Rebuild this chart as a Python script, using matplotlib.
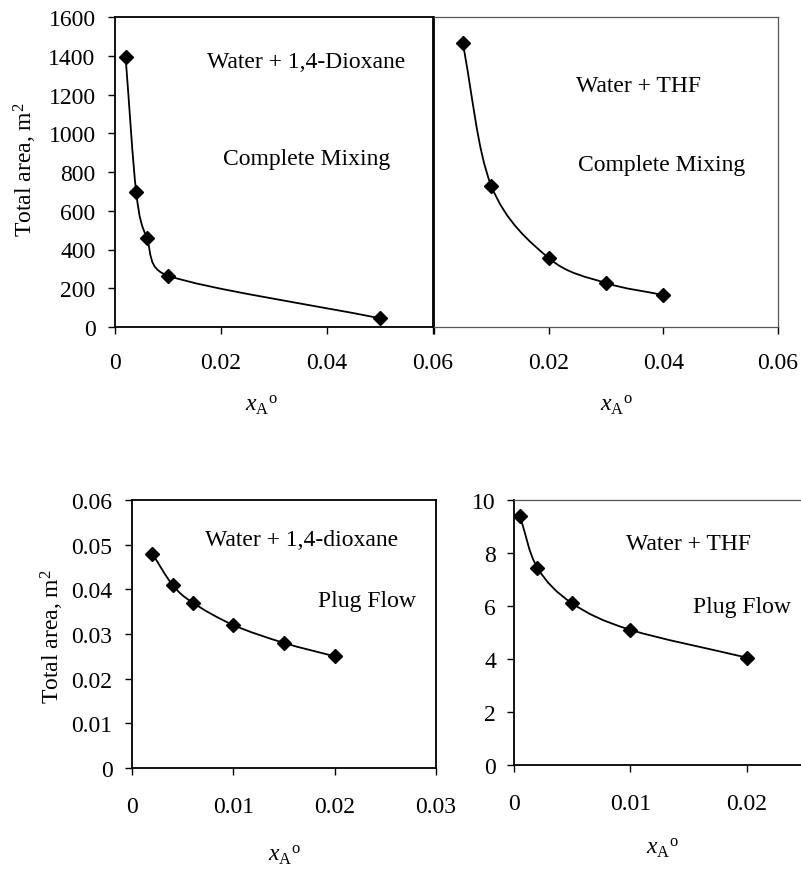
import numpy as np
import matplotlib
matplotlib.use("Agg")
import matplotlib.pyplot as plt
from matplotlib.path import Path
from matplotlib.patches import PathPatch

plt.rcParams["font.family"] = ["Liberation Serif", "DejaVu Serif"]
plt.rcParams["mathtext.fontset"] = "custom"
plt.rcParams["mathtext.rm"] = "Liberation Serif"
plt.rcParams["mathtext.it"] = "Liberation Serif:italic"
FS = 17

# --- data ---
x_cm_diox = [0.002, 0.004, 0.006, 0.01, 0.05]
y_cm_diox = [1392, 696, 458, 265, 45]

x_cm_thf = [0.005, 0.01, 0.02, 0.03, 0.04]
y_cm_thf = [1466, 728, 356, 227, 165]

x_pf_diox = [0.002, 0.004, 0.006, 0.01, 0.015, 0.02]
y_pf_diox = [0.048, 0.041, 0.037, 0.032, 0.028, 0.025]

x_pf_thf = [0.0005, 0.002, 0.005, 0.01, 0.02]
y_pf_thf = [9.4, 7.45, 6.1, 5.1, 4.05]

W, H = 801, 870


def frac(px, py):
    return px / W, 1 - py / H


def smooth_line(ax, xs, ys):
    # excel-like smoothed line: cubic bezier segments through the points
    p = np.column_stack([xs, ys]).astype(float)
    n = len(p)
    tang = np.zeros_like(p)
    for i in range(n):
        a = p[max(i - 1, 0)]
        b = p[min(i + 1, n - 1)]
        tang[i] = (b - a) / (2 if 0 < i < n - 1 else 1)
    verts = [p[0]]
    codes = [Path.MOVETO]
    for i in range(n - 1):
        dx = p[i + 1, 0] - p[i, 0]
        t0 = tang[i] / 3
        t1 = tang[i + 1] / 3
        # keep control points inside the segment's x range (no loops)
        if t0[0] > dx:
            t0 = t0 * dx / t0[0]
        if t1[0] > dx:
            t1 = t1 * dx / t1[0]
        verts += [p[i] + t0, p[i + 1] - t1, p[i + 1]]
        codes += [Path.CURVE4] * 3
    ax.add_patch(PathPatch(Path(verts, codes), facecolor="none",
                           edgecolor="black", lw=1.3, zorder=2))
    ax.plot(xs, ys, ls="none", marker="D", ms=7, color="black", zorder=3)


def make_ax(l, t, r, b):
    x0, y1 = frac(l, t)
    x1, y0 = frac(r, b)
    ax = fig.add_axes([x0, y0, x1 - x0, y1 - y0])
    ax.tick_params(direction="out", length=5, width=1, labelsize=FS,
                   top=False, right=False)
    for s in ax.spines.values():
        s.set_linewidth(1.3)
    return ax


fig = plt.figure(figsize=(W / 100, H / 100), dpi=100)

# top left
ax1 = make_ax(115, 18, 433, 328)
smooth_line(ax1, x_cm_diox, y_cm_diox)
ax1.set_xlim(0, 0.06)
ax1.set_ylim(0, 1600)
ax1.set_xticks([0, 0.02, 0.04, 0.06])
ax1.set_xticklabels(["0", "0.02", "0.04", "0.06"])
ax1.set_yticks(range(0, 1601, 200))
ax1.tick_params(axis="x", pad=13)
ax1.tick_params(axis="y", pad=9)

# top right
ax2 = make_ax(434, 18, 778, 328)
smooth_line(ax2, x_cm_thf, y_cm_thf)
ax2.set_xlim(0, 0.06)
ax2.set_ylim(0, 1600)
ax2.set_xticks([0, 0.02, 0.04, 0.06])
ax2.set_xticklabels(["", "0.02", "0.04", "0.06"])
ax2.set_yticks([])
ax2.tick_params(axis="x", pad=13)
for s in ["right", "bottom", "top"]:
    ax2.spines[s].set_color("#555555")
    ax2.spines[s].set_linewidth(0.9)

# bottom left
ax3 = make_ax(132, 501, 436, 769)
smooth_line(ax3, x_pf_diox, y_pf_diox)
ax3.set_xlim(0, 0.03)
ax3.set_ylim(0, 0.06)
ax3.set_xticks([0, 0.01, 0.02, 0.03])
ax3.set_xticklabels(["0", "0.01", "0.02", "0.03"])
ax3.set_yticks([0, 0.01, 0.02, 0.03, 0.04, 0.05, 0.06])
ax3.set_yticklabels(["0", "0.01", "0.02", "0.03", "0.04", "0.05", "0.06"])
ax3.tick_params(axis="x", pad=15)
ax3.tick_params(axis="y", pad=9)

# bottom right
ax4 = make_ax(514, 501, 801, 766)
smooth_line(ax4, x_pf_thf, y_pf_thf)
ax4.set_xlim(0, 0.02464)
ax4.set_ylim(0, 10)
ax4.set_xticks([0, 0.01, 0.02])
ax4.set_xticklabels(["0", "0.01", "0.02"])
ax4.set_yticks(range(0, 11, 2))
ax4.tick_params(axis="x", pad=15)
ax4.tick_params(axis="y", pad=8)
ax4.spines["right"].set_visible(False)
ax4.spines["top"].set_color("#555555")
ax4.spines["top"].set_linewidth(0.9)

# labels and annotations
ylab = "Total area, m$^{2}$"
xlab = r"$x_{\rm A}{}^{\rm o}$"
fig.text(*frac(25, 170), ylab, rotation=90, ha="center", va="center", fontsize=FS)
fig.text(*frac(52, 637), ylab, rotation=90, ha="center", va="center", fontsize=FS)
for px, py in [(262, 405), (617, 405), (285, 855), (663, 848)]:
    fig.text(*frac(px, py), xlab, ha="center", va="center", fontsize=FS)

notes = [
    (306, 63, "Water + 1,4-Dioxane"),
    (307, 160, "Complete Mixing"),
    (639, 87, "Water + THF"),
    (662, 165, "Complete Mixing"),
    (302, 540, "Water + 1,4-dioxane"),
    (367, 602, "Plug Flow"),
    (689, 545, "Water + THF"),
    (742, 607, "Plug Flow"),
]
for px, py, s in notes:
    fig.text(*frac(px, py), s, ha="center", va="center", fontsize=FS)

fig.savefig("out.png", dpi=100)
